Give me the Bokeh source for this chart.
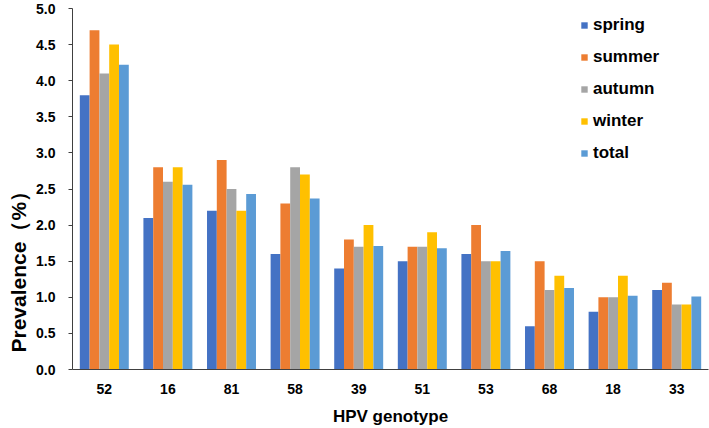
from bokeh.plotting import figure
from bokeh.models import ColumnDataSource, FactorRange, FixedTicker, NumeralTickFormatter, Legend, LegendItem, Title
from bokeh.transform import dodge
from bokeh.embed import file_html
from bokeh.resources import INLINE

genotypes = ["52", "16", "81", "58", "39", "51", "53", "68", "18", "33"]
spring = [3.8, 2.1, 2.2, 1.6, 1.4, 1.5, 1.6, 0.6, 0.8, 1.1]
summer = [4.7, 2.8, 2.9, 2.3, 1.8, 1.7, 2.0, 1.5, 1.0, 1.2]
autumn = [4.1, 2.6, 2.5, 2.8, 1.7, 1.7, 1.5, 1.1, 1.0, 0.9]
winter = [4.5, 2.8, 2.2, 2.7, 2.0, 1.9, 1.5, 1.3, 1.3, 0.9]
total = [4.22, 2.56, 2.43, 2.37, 1.71, 1.68, 1.64, 1.13, 1.02, 1.01]
series_names = ["spring", "summer", "autumn", "winter", "total"]
colors = ["#4472C4", "#ED7D31", "#A5A5A5", "#FFC000", "#5B9BD5"]
y_ticks = [0.0, 0.5, 1.0, 1.5, 2.0, 2.5, 3.0, 3.5, 4.0, 4.5, 5.0]

source = ColumnDataSource(dict(genotype=genotypes, spring=spring, summer=summer,
                               autumn=autumn, winter=winter, total=total))

FONT = "Liberation Sans"

p = figure(x_range=FactorRange(*genotypes), y_range=(0, 5.0),
           width=709, height=428, output_backend="svg", toolbar_location=None,
           min_border_left=72, min_border_right=1, min_border_top=8, min_border_bottom=59)
p.x_range.range_padding = 0
p.outline_line_color = None
p.grid.visible = False
p.background_fill_color = "white"

bw = 0.154
offsets = [-2 * bw, -bw, 0.0, bw, 2 * bw]
renderers = []
for name, col, off in zip(series_names, colors, offsets):
    r = p.vbar(x=dodge("genotype", off, range=p.x_range), top=name, width=bw,
               source=source, fill_color=col, line_color=None)
    renderers.append(r)

# axes
p.yaxis.ticker = FixedTicker(ticks=y_ticks)
p.yaxis.formatter = NumeralTickFormatter(format="0.0")
p.yaxis.minor_tick_line_color = None
p.yaxis.major_tick_out = 4
p.yaxis.major_tick_in = 0
p.yaxis.major_tick_line_color = "#404040"
p.yaxis.axis_line_color = "#404040"
p.yaxis.major_label_standoff = 13
p.yaxis.major_label_text_font = FONT
p.yaxis.major_label_text_font_style = "bold"
p.yaxis.major_label_text_font_size = "14px"
p.yaxis.major_label_text_color = "black"

p.xaxis.major_tick_line_color = None
p.xaxis.minor_tick_line_color = None
p.xaxis.axis_line_color = "#404040"
p.xaxis.major_label_standoff = 8
p.xaxis.major_label_text_font = FONT
p.xaxis.major_label_text_font_style = "bold"
p.xaxis.major_label_text_font_size = "14px"
p.xaxis.major_label_text_color = "black"
p.xaxis.axis_label = "HPV genotype"
p.xaxis.axis_label_standoff = 10
p.xaxis.axis_label_text_font = FONT
p.xaxis.axis_label_text_font_style = "bold"
p.xaxis.axis_label_text_font_size = "17px"
p.xaxis.axis_label_text_color = "black"

ytitle = Title(text="Prevalence（%）", align="left", offset=17, standoff=7,
               text_font=FONT, text_font_style="bold", text_font_size="21px",
               text_color="black")
p.add_layout(ytitle, "left")

legend = Legend(items=[LegendItem(label=n, renderers=[r]) for n, r in zip(series_names, renderers)],
                location=(508, 206), padding=0, margin=0, spacing=12,
                glyph_width=8, glyph_height=8, label_height=20, label_standoff=5,
                label_text_font=FONT, label_text_font_style="bold",
                label_text_font_size="17px", label_text_color="black",
                border_line_color=None, background_fill_alpha=0)
p.add_layout(legend)

open("out.html", "w").write(file_html(p, INLINE))
